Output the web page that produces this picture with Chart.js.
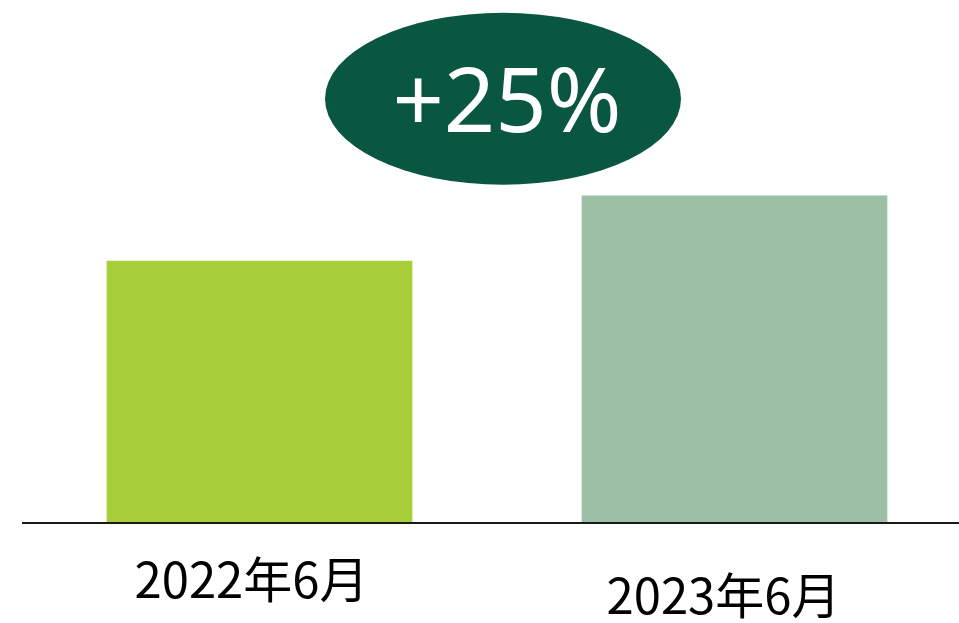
<!DOCTYPE html>
<html>
<head>
<meta charset="utf-8">
<script src="https://cdn.jsdelivr.net/npm/chart.js@4"></script>
<style>
  html, body { margin: 0; padding: 0; background: #fff; overflow: hidden; }
  #wrap { width: 980px; height: 623px; }
</style>
</head>
<body>
<div id="wrap"><canvas id="chart"></canvas></div>
<script>
// Data
const categories = ["2022年6月", "2023年6月"];
const values = [100, 125];
const barColors = ["#a8cf3a", "#9cbfa5"];
const growthLabel = "+25%";

// Category labels under the baseline (second one sits a bit lower, as in the original)
const labelPlugin = {
  id: "categoryLabels",
  afterDraw(chart) {
    const ctx = chart.ctx;
    const x = chart.scales.x;
    const area = chart.chartArea;
    const shifts = [[-8, 76], [-11, 92]];

    // baseline
    ctx.save();
    ctx.strokeStyle = "#1a1a1a";
    ctx.lineWidth = 2;
    ctx.beginPath();
    ctx.moveTo(area.left, area.bottom + 1);
    ctx.lineTo(chart.width, area.bottom + 1);
    ctx.stroke();

    ctx.fillStyle = "#000";
    ctx.font = '49px "Noto Sans CJK JP"';
    ctx.textAlign = "center";
    ctx.textBaseline = "alphabetic";
    categories.forEach((c, i) => {
      const px = x.getPixelForValue(i) + shifts[i][0];
      ctx.fillText(c, px, area.bottom + shifts[i][1]);
    });
    ctx.restore();
  },
};

// Growth bubble between the bars
const bubblePlugin = {
  id: "growthBubble",
  afterDraw(chart) {
    const ctx = chart.ctx;
    const x = chart.scales.x;
    const y = chart.scales.y;
    const cx = (x.getPixelForValue(0) + x.getPixelForValue(1)) / 2 + 6;
    const cy = y.getPixelForValue(values[1]) - 97;

    ctx.save();
    ctx.fillStyle = "#0a5741";
    ctx.beginPath();
    ctx.ellipse(cx, cy, 178, 86, 0, 0, Math.PI * 2);
    ctx.fill();

    ctx.fillStyle = "#fff";
    ctx.font = '90px "Noto Sans"';
    ctx.textAlign = "center";
    ctx.textBaseline = "alphabetic";
    ctx.fillText(growthLabel, cx + 4, cy + 33);
    ctx.restore();
  },
};

new Chart(document.getElementById("chart"), {
  type: "bar",
  data: {
    labels: categories,
    datasets: [
      {
        data: values,
        backgroundColor: barColors,
        barThickness: 305,
      },
    ],
  },
  options: {
    responsive: true,
    maintainAspectRatio: false,
    animation: false,
    layout: { padding: { left: 22, right: 8, top: 0, bottom: 101 } },
    plugins: {
      legend: { display: false },
      tooltip: { enabled: false },
    },
    scales: {
      x: { display: false },
      y: { display: false, min: 0, max: 200 },
    },
  },
  plugins: [labelPlugin, bubblePlugin],
});
</script>
</body>
</html>
